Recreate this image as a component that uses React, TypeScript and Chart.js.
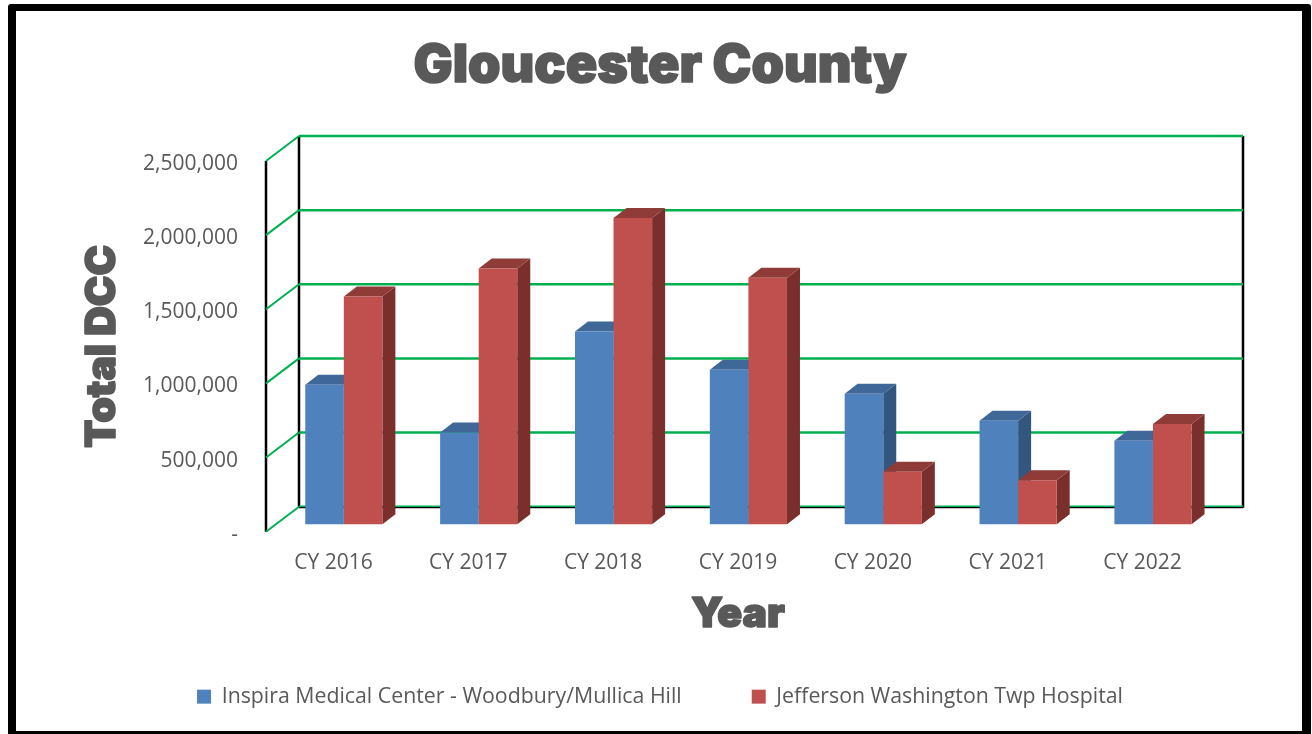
import React, { useEffect, useRef } from "react";
import { Chart, registerables } from "chart.js";

Chart.register(...registerables);

const categories = ["CY 2016", "CY 2017", "CY 2018", "CY 2019", "CY 2020", "CY 2021", "CY 2022"];
const inspiraValues = [941000, 619000, 1299000, 1042000, 880000, 698000, 563000];
const jeffersonValues = [1535000, 1725000, 2065000, 1662000, 353000, 297000, 676000];
const seriesNames = ["Inspira Medical Center - Woodbury/Mullica Hill", "Jefferson Washington Twp Hospital"];

const TEXT = "#595959";
const GREEN = "#00B050";
const WALL_DX = 33;
const WALL_DY = -25;
const BAR_DX = 10.4;
const BAR_DY = -7.5;
const DEPTH_DX = 13;
const DEPTH_DY = -10;
const FACE_COLORS = [
  { top: "#3F6797", side: "#33567F" },
  { top: "#8F3C39", side: "#7A2F2D" },
];

const framePlugin = {
  id: "frame",
  beforeDraw(chart: any) {
    const { ctx, width, height } = chart;
    // heavy titles: Arial Black is not installed, so thicken the heaviest face with an outline
    if (!ctx.__heavy) {
      ctx.__heavy = true;
      const fill = ctx.fillText.bind(ctx);
      ctx.fillText = (text: string, x: number, y: number, maxWidth?: number) => {
        if (ctx.font.startsWith("900")) {
          ctx.save();
          ctx.strokeStyle = ctx.fillStyle;
          ctx.lineWidth = 1.6;
          ctx.lineJoin = "round";
          ctx.strokeText(text, x, y);
          ctx.restore();
        }
        if (maxWidth === undefined) fill(text, x, y);
        else fill(text, x, y, maxWidth);
      };
    }
    ctx.save();
    ctx.fillStyle = "#ffffff";
    ctx.fillRect(0, 0, width, height);
    ctx.fillStyle = "#000000";
    ctx.beginPath();
    ctx.roundRect(8, 4, 1303, 745, 3);
    ctx.rect(16, 11, 1286, 720);
    ctx.fill("evenodd");
    ctx.restore();
    // the legend's row gap also pads it vertically: place its row by hand
    chart.legend.top = 616;
  },
};

const threeDPlugin = {
  id: "threeD",
  beforeDatasetsDraw(chart: any) {
    const { ctx, chartArea, scales } = chart;
    const y = scales.y;
    const x0 = chartArea.left;
    const x1 = chartArea.right;
    ctx.save();
    ctx.lineCap = "butt";
    // black wall edges
    ctx.strokeStyle = "#000000";
    ctx.lineWidth = 2.5;
    const yTop = y.getPixelForValue(y.max);
    const yBot = y.getPixelForValue(y.min);
    ctx.beginPath();
    ctx.moveTo(x0, yTop);
    ctx.lineTo(x0, yBot);
    ctx.moveTo(x0 + WALL_DX, yTop + WALL_DY);
    ctx.lineTo(x0 + WALL_DX, yBot + WALL_DY);
    ctx.moveTo(x1 + WALL_DX, yTop + WALL_DY);
    ctx.lineTo(x1 + WALL_DX, yBot + WALL_DY + 1);
    ctx.stroke();
    ctx.lineWidth = 2;
    ctx.beginPath();
    ctx.moveTo(x0 + WALL_DX, yBot + WALL_DY + 0.5);
    ctx.lineTo(x1 + WALL_DX, yBot + WALL_DY + 0.5);
    ctx.stroke();
    // green gridlines
    ctx.strokeStyle = GREEN;
    for (const t of y.ticks) {
      const py = y.getPixelForValue(t.value);
      ctx.lineWidth = 2;
      ctx.beginPath();
      ctx.moveTo(x0, py);
      ctx.lineTo(x0 + WALL_DX, py + WALL_DY);
      ctx.stroke();
      ctx.lineWidth = t.value === 0 ? 1.5 : 2.5;
      ctx.beginPath();
      ctx.moveTo(x0 + WALL_DX, py + WALL_DY - (t.value === 0 ? 0.5 : 0));
      ctx.lineTo(x1 + WALL_DX, py + WALL_DY - (t.value === 0 ? 0.5 : 0));
      ctx.stroke();
    }
    // top and side faces, blue first then red
    chart.data.datasets.forEach((_: any, di: number) => {
      const meta = chart.getDatasetMeta(di);
      const c = FACE_COLORS[di];
      meta.data.forEach((bar: any) => {
        const half = bar.width / 2;
        const l = bar.x - half + BAR_DX;
        const r = bar.x + half + BAR_DX;
        const t = bar.y + BAR_DY;
        const b = bar.base + BAR_DY;
        ctx.fillStyle = c.side;
        ctx.beginPath();
        ctx.moveTo(r, t);
        ctx.lineTo(r + DEPTH_DX, t + DEPTH_DY);
        ctx.lineTo(r + DEPTH_DX, b + DEPTH_DY);
        ctx.lineTo(r, b);
        ctx.closePath();
        ctx.fill();
        ctx.fillStyle = c.top;
        ctx.beginPath();
        ctx.moveTo(l, t);
        ctx.lineTo(l + DEPTH_DX, t + DEPTH_DY);
        ctx.lineTo(r + DEPTH_DX, t + DEPTH_DY);
        ctx.lineTo(r, t);
        ctx.closePath();
        ctx.fill();
      });
    });
    ctx.restore();
    // front faces are drawn by Chart.js, shifted onto the floor's mid depth
    ctx.save();
    ctx.translate(BAR_DX, BAR_DY);
  },
  afterDatasetsDraw(chart: any) {
    chart.ctx.restore();
  },
};

const axisFont = { family: "'Open Sans'", size: 21 };
const legendFont = { family: "'Open Sans'", size: 21.3 };
const heavyFont = (size: number) => ({ family: "Inter", size, weight: "900" as any, lineHeight: 1.2 });

export default function App() {
  const ref = useRef<HTMLCanvasElement | null>(null);
  useEffect(() => {
    const chart = new Chart(ref.current as HTMLCanvasElement, {
      type: "bar",
      data: {
        labels: categories,
        datasets: [
          { label: seriesNames[0], data: inspiraValues, backgroundColor: "#4F81BD", clip: false as any },
          { label: seriesNames[1], data: jeffersonValues, backgroundColor: "#C0504D", clip: false as any },
        ],
      },
      options: {
        responsive: false,
        animation: false,
        layout: { padding: { left: 8, right: 0, top: 0, bottom: 0 } },
        datasets: { bar: { categoryPercentage: 0.572, barPercentage: 1 } },
        plugins: {
          tooltip: { enabled: false },
          title: {
            display: true,
            text: "Gloucester County",
            color: TEXT,
            font: heavyFont(52),
            padding: { top: 35.5, bottom: 63.1 },
          },
          legend: {
            position: "bottom",
            labels: { boxWidth: 14, boxHeight: 14, padding: 70, color: TEXT, font: legendFont },
          },
        },
        scales: {
          x: {
            grid: { display: false, drawTicks: false },
            border: { display: false },
            ticks: { color: TEXT, font: axisFont, padding: 19, maxRotation: 0 },
            title: {
              display: true,
              text: "Year",
              color: TEXT,
              font: heavyFont(41),
              padding: { top: 0, bottom: -7 },
            },
            afterFit: (s: any) => {
              s.height = 101;
            },
          },
          y: {
            min: 0,
            max: 2500000,
            grid: { display: false, drawTicks: false },
            border: { display: false },
            ticks: {
              stepSize: 500000,
              color: TEXT,
              font: axisFont,
              padding: 28,
              labelOffset: 3,
              callback: (v: any) => (Number(v) === 0 ? "-" : Number(v).toLocaleString("en-US")),
            },
            title: {
              display: true,
              text: "Total DCC",
              color: TEXT,
              font: heavyFont(41),
              padding: { top: 70.5, bottom: 0 },
            },
            afterFit: (s: any) => {
              s.width = 258;
            },
          },
          yRight: {
            position: "right",
            min: 0,
            max: 1,
            grid: { display: false, drawTicks: false },
            border: { display: false },
            ticks: { display: false },
            afterFit: (s: any) => {
              s.width = 102;
            },
          },
        },
      } as any,
      plugins: [framePlugin, threeDPlugin],
    });
    return () => chart.destroy();
  }, []);
  return (
    <canvas
      ref={ref}
      width={1312}
      height={734}
      style={{ position: "absolute", left: 0, top: 0, display: "block" }}
    />
  );
}
